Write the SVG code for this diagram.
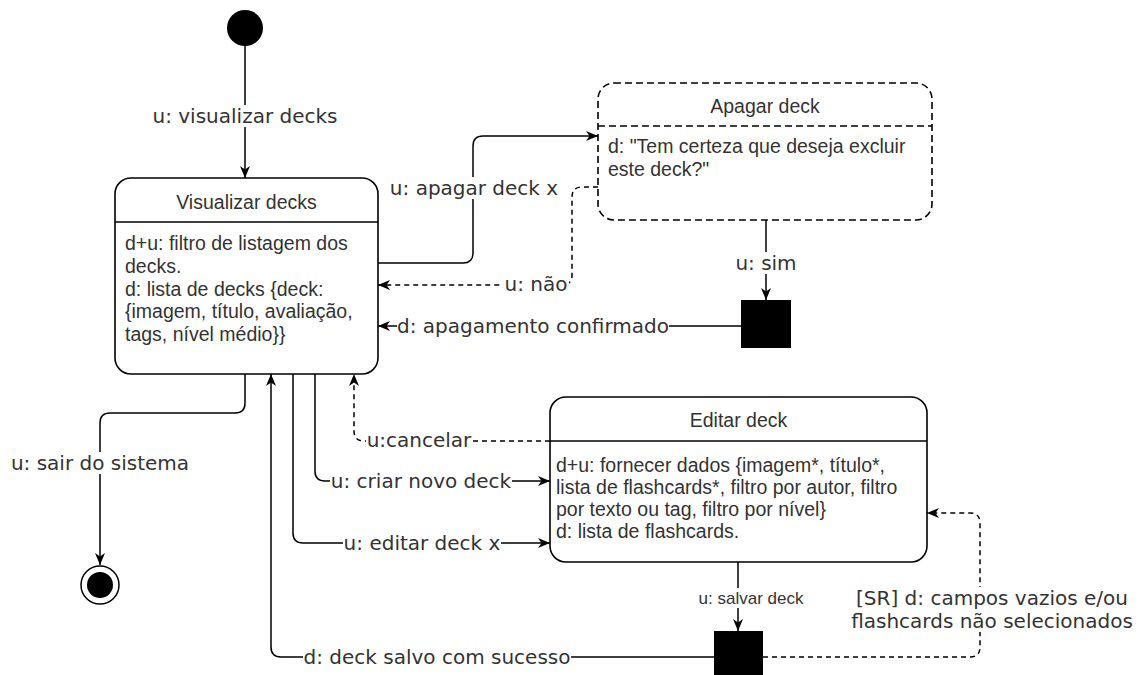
<svg xmlns="http://www.w3.org/2000/svg" width="1146" height="675" viewBox="0 0 1146 675">
<defs>
<marker id="arr" markerUnits="userSpaceOnUse" markerWidth="14" markerHeight="12" refX="12" refY="5" orient="auto">
<path d="M0,0 L12,5 L0,10 L3.5,5 Z" fill="#000"/>
</marker>
<style>
.box{fill:#fff;stroke:#000;stroke-width:1.6}
.dbox{fill:#fff;stroke:#000;stroke-width:1.6;stroke-dasharray:7 4}
.sep{stroke:#000;stroke-width:1.6}
.dsep{stroke:#000;stroke-width:1.6;stroke-dasharray:7 4}
.title{font-family:"Liberation Sans",Arial,sans-serif;font-size:19.5px;fill:#333;text-anchor:middle}
.body{font-family:"Liberation Sans",Arial,sans-serif;font-size:19.5px;fill:#333}
.e{fill:none;stroke:#000;stroke-width:1.5;marker-end:url(#arr)}
.ed{fill:none;stroke:#000;stroke-width:1.5;stroke-dasharray:5 4;marker-end:url(#arr)}
.lbl{font-family:"DejaVu Sans",Verdana,sans-serif;font-size:20px;fill:#333;text-anchor:middle}
.lbl2{font-family:"Liberation Sans",Arial,sans-serif;font-size:17px;fill:#333;text-anchor:middle}
.bg{fill:#fff}
</style>
</defs>
<rect width="1146" height="675" fill="#fff"/>

<g id="connectors">
<path class="e" d="M245,46 V178"/>
<path class="e" d="M378,263 H463 Q473,263 473,253 V146 Q473,136 483,136 H598"/>
<path class="ed" d="M598,187 H582 Q572,187 572,197 V275 Q572,285 562,285 H378"/>
<path class="e" d="M766,220 V300"/>
<path class="e" d="M741,326 H378"/>
<path class="ed" d="M550,441 H364 Q354,441 354,431 V374"/>
<path class="e" d="M315,374 V471 Q315,481 325,481 H550"/>
<path class="e" d="M293,374 V533 Q293,543 303,543 H550"/>
<path class="e" d="M245,374 V403 Q245,413 235,413 H110 Q100,413 100,423 V565"/>
<path class="e" d="M738,562 V631"/>
<path class="e" d="M714,657 H281 Q271,657 271,647 V374"/>
<path class="ed" d="M763,657 H970 Q980,657 980,647 V523 Q980,513 970,513 H927"/>

<rect class="bg" x="151" y="105" width="188" height="22"/>
<text class="lbl" x="245" y="123">u: visualizar decks</text>
<rect class="bg" x="389" y="177" width="170" height="22"/>
<text class="lbl" x="474" y="195">u: apagar deck x</text>
<rect class="bg" x="503" y="273" width="66" height="22"/>
<text class="lbl" x="536" y="291">u: não</text>
<rect class="bg" x="734" y="252" width="64" height="22"/>
<text class="lbl" x="766" y="270">u: sim</text>
<rect class="bg" x="397" y="315" width="272" height="22"/>
<text class="lbl" x="533" y="333">d: apagamento confirmado</text>
<rect class="bg" x="366" y="429" width="106" height="22"/>
<text class="lbl" x="419" y="447">u:cancelar</text>
<rect class="bg" x="330" y="470" width="182" height="22"/>
<text class="lbl" x="421" y="488">u: criar novo deck</text>
<rect class="bg" x="343" y="532" width="158" height="22"/>
<text class="lbl" x="422" y="550">u: editar deck x</text>
<rect class="bg" x="11" y="452" width="178" height="22"/>
<text class="lbl" x="100" y="470">u: sair do sistema</text>
<rect class="bg" x="697" y="588" width="108" height="20"/>
<text class="lbl2" x="751" y="604">u: salvar deck</text>
<rect class="bg" x="303" y="646" width="268" height="22"/>
<text class="lbl" x="437" y="664">d: deck salvo com sucesso</text>
<rect class="bg" x="850" y="587" width="290" height="45"/>
<text class="lbl" x="992" y="605">[SR] d: campos vazios e/ou</text>
<text class="lbl" x="992" y="628">flashcards não selecionados</text>
</g>

<g id="initial">
<circle cx="245" cy="28" r="18" fill="#000"/>
</g>

<g id="visualizar-decks">
<rect class="box" x="115" y="178" width="263" height="196" rx="16" ry="16"/>
<line class="sep" x1="115" y1="222" x2="378" y2="222"/>
<text class="title" x="246.5" y="209">Visualizar decks</text>
<text class="body" x="125" y="250">d+u: filtro de listagem dos</text>
<text class="body" x="125" y="273">decks.</text>
<text class="body" x="125" y="296">d: lista de decks {deck:</text>
<text class="body" x="125" y="318">{imagem, título, avaliação,</text>
<text class="body" x="125" y="341">tags, nível médio}}</text>
</g>

<g id="apagar-deck">
<rect class="dbox" x="598" y="83" width="334" height="137" rx="16" ry="16"/>
<line class="dsep" x1="598" y1="126" x2="932" y2="126"/>
<text class="title" x="765" y="113">Apagar deck</text>
<text class="body" x="608" y="153">d: "Tem certeza que deseja excluir</text>
<text class="body" x="608" y="176">este deck?"</text>
</g>

<g id="confirm-junction">
<rect x="741" y="300" width="50" height="48" fill="#000"/>
</g>

<g id="editar-deck">
<rect class="box" x="550" y="397" width="377" height="165" rx="16" ry="16"/>
<line class="sep" x1="550" y1="441" x2="927" y2="441"/>
<text class="title" x="738.5" y="427">Editar deck</text>
<text class="body" x="556" y="472">d+u: fornecer dados {imagem*, título*,</text>
<text class="body" x="556" y="494">lista de flashcards*, filtro por autor, filtro</text>
<text class="body" x="556" y="516">por texto ou tag, filtro por nível}</text>
<text class="body" x="556" y="538">d: lista de flashcards.</text>
</g>

<g id="save-junction">
<rect x="714" y="631" width="49" height="49" fill="#000"/>
</g>

<g id="final">
<circle cx="100" cy="585" r="19" fill="#fff" stroke="#000" stroke-width="1.5"/>
<circle cx="100" cy="585" r="13" fill="#000"/>
</g>
</svg>
